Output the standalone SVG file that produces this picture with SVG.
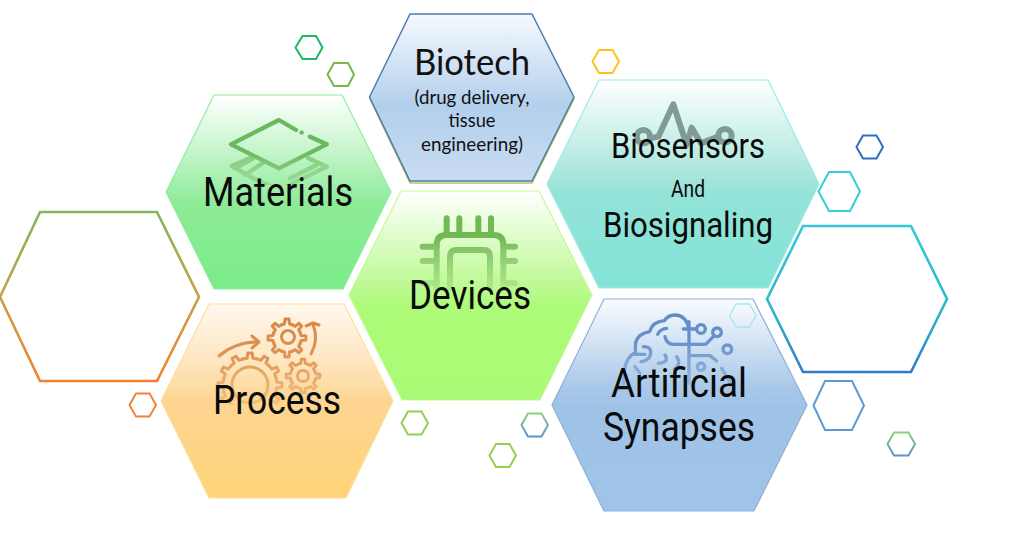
<svg xmlns="http://www.w3.org/2000/svg" xmlns:xlink="http://www.w3.org/1999/xlink" width="1033" height="534" viewBox="0 0 1033 534">
<style>
.lab{font-family:"Roboto","Liberation Sans",sans-serif;fill:#0a0a0a}
.cal{font-family:"Lato","Liberation Sans",sans-serif;fill:#111}
.ic{fill:none;stroke-linecap:round;stroke-linejoin:round}
.sh{fill:none;stroke-width:2}
.big{fill:none;stroke-width:2.6}
</style>
<defs>
<linearGradient id="gMat" x1="0" y1="0" x2="0" y2="1"><stop offset="0" stop-color="#fff"/><stop offset=".5" stop-color="#9aeda4"/><stop offset=".55" stop-color="#8eeb98"/><stop offset="1" stop-color="#7beb88"/></linearGradient>
<linearGradient id="gBio" x1="0" y1="0" x2="0" y2="1"><stop offset="0" stop-color="#f6f9fe"/><stop offset=".55" stop-color="#b2cfec"/><stop offset="1" stop-color="#c9dcf1"/></linearGradient>
<linearGradient id="gDev" x1="0" y1="0" x2="0" y2="1"><stop offset="0" stop-color="#fff"/><stop offset=".48" stop-color="#b9f98d"/><stop offset=".55" stop-color="#adfb78"/><stop offset="1" stop-color="#a9fb75"/></linearGradient>
<linearGradient id="gSen" x1="0" y1="0" x2="0" y2="1"><stop offset="0" stop-color="#fff"/><stop offset=".48" stop-color="#a4e5d9"/><stop offset=".55" stop-color="#93e3d8"/><stop offset="1" stop-color="#82e3d7"/></linearGradient>
<linearGradient id="gArt" x1="0" y1="0" x2="0" y2="1"><stop offset="0" stop-color="#fafcfe"/><stop offset=".42" stop-color="#a8c8e8"/><stop offset=".5" stop-color="#9fc3e7"/><stop offset="1" stop-color="#a0c4e8"/></linearGradient>
<linearGradient id="gPro" x1="0" y1="0" x2="0" y2="1"><stop offset="0" stop-color="#fff8ef"/><stop offset=".3" stop-color="#fee6bf"/><stop offset=".5" stop-color="#fdd592"/><stop offset="1" stop-color="#ffd478"/></linearGradient>
<linearGradient id="sL" x1="0" y1="0" x2="0" y2="1"><stop offset="0" stop-color="#7fb85a"/><stop offset=".5" stop-color="#c6a145"/><stop offset="1" stop-color="#f4802f"/></linearGradient>
<linearGradient id="sR" x1="0" y1="0" x2="0" y2="1"><stop offset="0" stop-color="#36c8d8"/><stop offset=".6" stop-color="#2fb4cc"/><stop offset="1" stop-color="#2f7cc8"/></linearGradient>
<linearGradient id="sGB" x1="0" y1="0" x2="0" y2="1"><stop offset="0" stop-color="#8ed07a"/><stop offset="1" stop-color="#5b94d0"/></linearGradient>
<linearGradient id="fadeA" x1="0" y1="0" x2="0" y2="1"><stop offset="0" stop-color="#fff"/><stop offset=".6" stop-color="#fff"/><stop offset="1" stop-color="#777"/></linearGradient>
<mask id="mMat" maskUnits="userSpaceOnUse" x="0" y="0" width="1033" height="534"><rect x="200" y="100" width="150" height="85" fill="url(#fadeA)"/></mask>
<mask id="mDev" maskUnits="userSpaceOnUse" x="0" y="0" width="1033" height="534"><rect x="410" y="205" width="120" height="90" fill="url(#fadeB)"/></mask>
<linearGradient id="fadeB" x1="0" y1="0" x2="0" y2="1"><stop offset="0" stop-color="#fff"/><stop offset=".35" stop-color="#fff"/><stop offset="1" stop-color="#222"/></linearGradient>
<mask id="mPro" maskUnits="userSpaceOnUse" x="0" y="0" width="1033" height="534"><rect x="200" y="310" width="140" height="95" fill="url(#fadeC)"/></mask>
<linearGradient id="fadeC" x1="0" y1="0" x2="0" y2="1"><stop offset="0" stop-color="#fff"/><stop offset=".45" stop-color="#ddd"/><stop offset="1" stop-color="#444"/></linearGradient>
<mask id="mArt" maskUnits="userSpaceOnUse" x="0" y="0" width="1033" height="534"><rect x="610" y="305" width="140" height="90" fill="url(#fadeD)"/></mask>
<linearGradient id="fadeD" x1="0" y1="0" x2="0" y2="1"><stop offset="0" stop-color="#fff"/><stop offset=".4" stop-color="#eee"/><stop offset="1" stop-color="#333"/></linearGradient>
<path id="t8" d="M13.86-5.74 14.77-2.6 19.89-2.09V2.09L14.77 2.6 13.86 5.74"/>
<path id="t12" d="M26.08-6.99 26.85-2.82 31.92-2.23V2.23L26.85 2.82 26.08 6.99"/>
<g id="gear8">
<use href="#t8"/><use href="#t8" transform="rotate(45)"/><use href="#t8" transform="rotate(90)"/><use href="#t8" transform="rotate(135)"/><use href="#t8" transform="rotate(180)"/><use href="#t8" transform="rotate(225)"/><use href="#t8" transform="rotate(270)"/><use href="#t8" transform="rotate(315)"/>
</g>
<g id="gear12">
<use href="#t12"/><use href="#t12" transform="rotate(30)"/><use href="#t12" transform="rotate(60)"/><use href="#t12" transform="rotate(90)"/><use href="#t12" transform="rotate(120)"/><use href="#t12" transform="rotate(150)"/><use href="#t12" transform="rotate(180)"/><use href="#t12" transform="rotate(210)"/><use href="#t12" transform="rotate(240)"/><use href="#t12" transform="rotate(270)"/><use href="#t12" transform="rotate(300)"/><use href="#t12" transform="rotate(330)"/>
</g>
</defs>
<rect width="1033" height="534" fill="#fff"/>

<g id="outline-left"><polygon class="big" stroke="url(#sL)" points="0,297 40,212 157,212 199,297 157,381 40,381"/></g>
<g id="outline-right"><polygon class="big" stroke="url(#sR)" points="767,299 803,226 911,226 947,299 911,372 803,372"/></g>

<g id="node-biotech">
<polygon fill="none" stroke="#b5c86a" stroke-width="1.5" points="370,99 410,183 532,183 574,99"/>
<polygon fill="url(#gBio)" stroke="#4f7dab" stroke-width="1.5" points="369.5,97 410,14 532,14 574,97 532,181 410,181"/>
<text class="cal" x="472" y="75" font-size="37" text-anchor="middle" textLength="116" lengthAdjust="spacingAndGlyphs">Biotech</text>
<text class="cal" x="472" y="104" font-size="18.5" text-anchor="middle" textLength="115" lengthAdjust="spacingAndGlyphs">(drug delivery,</text>
<text class="cal" x="472" y="127" font-size="18.5" text-anchor="middle" textLength="47" lengthAdjust="spacingAndGlyphs">tissue</text>
<text class="cal" x="472" y="151" font-size="18.5" text-anchor="middle" textLength="102" lengthAdjust="spacingAndGlyphs">engineering)</text>
</g>

<g id="node-materials">
<polygon fill="url(#gMat)" stroke="#8fee9c" stroke-width="1.2" points="166,192 214,95 342,95 391,192 343,289 214,289"/>
<g mask="url(#mMat)"><g class="ic" transform="translate(220 110) scale(.3333)" stroke="#6cb85f" stroke-width="13">
<path d="M100 140 35 168 100 205 177 240 320 170 265 145M100 145 45 175M130 158 75 195M290 165 210 205" opacity=".7"/>
<path d="M228 60 177 30 33 103 177 175 320 103 270 80"/><path d="M245 68h.1"/>
</g></g>
<text class="lab" x="203" y="206" font-size="41" textLength="150" lengthAdjust="spacingAndGlyphs">Materials</text>
</g>

<g id="node-devices">
<polygon fill="url(#gDev)" stroke="#c6f79b" stroke-width="1.2" points="349,295 401,191 539,191 592,295 540,400 402,400"/>
<g mask="url(#mDev)"><g class="ic" transform="translate(410 205) scale(.3333)" stroke="#72b855" stroke-width="18">
<path d="M80 250V120Q80 90 110 90H250Q280 90 280 120V250"/>
<path d="M120 250V155Q120 135 140 135H222Q240 135 240 155V250"/>
<path d="M110 40V90M148 40V90M205 40V90M243 40V90M38 125H80M38 168H80M38 235H80M280 125H315M280 168H315M280 235H315"/>
</g></g>
<text class="lab" x="409" y="309" font-size="40" textLength="122" lengthAdjust="spacingAndGlyphs">Devices</text>
</g>

<g id="node-process">
<polygon fill="url(#gPro)" stroke="#fde09a" stroke-width="1.2" points="161,401 209,304 344,304 393,401 346,498 209,498"/>
<g mask="url(#mPro)"><g class="ic" stroke="#d8853f" stroke-width="3">
<use href="#gear8" transform="translate(287 338) scale(.95)" stroke-width="3.2"/>
<circle cx="288" cy="337" r="6.5"/>
<path d="M219 356Q235 342 258 342M252 336 259 342 252 348"/>
<path d="M311 354Q319 340 313 324M306 326 313 323 319 325"/>
<use href="#gear12" transform="translate(250 385)"/>
<circle cx="250" cy="385" r="18"/>
<use href="#gear8" transform="translate(303 376) scale(.85)" stroke-width="3.4"/>
<circle cx="303" cy="376" r="5.5"/>
</g></g>
<text class="lab" x="213" y="414" font-size="41" textLength="128" lengthAdjust="spacingAndGlyphs">Process</text>
</g>

<g id="node-biosensors">
<polygon fill="url(#gSen)" stroke="#9be9e2" stroke-width="1.2" points="547,184 599,80 768,80 819,184 768,288 599,288"/>
<g class="ic" transform="translate(625 95) scale(.3333)" stroke="#7f9a97" stroke-width="18">
<circle cx="55" cy="125" r="20"/><circle cx="300" cy="122" r="20"/>
<path d="M75 130 100 125 145 28 185 150 200 98 228 145 280 125"/>
</g>
<text class="lab" x="611" y="158" font-size="35" textLength="154" lengthAdjust="spacingAndGlyphs">Biosensors</text>
<text class="lab" x="671" y="197" font-size="23" textLength="34" lengthAdjust="spacingAndGlyphs">And</text>
<text class="lab" x="603" y="237" font-size="35" textLength="170" lengthAdjust="spacingAndGlyphs">Biosignaling</text>
</g>

<g id="node-synapses">
<polygon fill="url(#gArt)" stroke="#8faede" stroke-width="1.2" points="552,405 604,299 753,299 807,405 754,511 604,511"/>
<g mask="url(#mArt)"><g class="ic" transform="translate(615 305) scale(.3333)" stroke="#5d8ac8" stroke-width="10">
<path d="M222 70Q212 30 180 30 160 30 148 47 112 50 104 80 70 85 62 112 60 130 62 142 35 155 28 195M28 195 25 240"/>
<path d="M128 88Q135 72 155 70M150 95Q155 118 175 118H222M222 118H272L298 92"/>
<path d="M222 50V235M205 72H245M222 152H285L305 168"/>
<circle cx="258" cy="72" r="13"/><circle cx="306" cy="82" r="13"/><circle cx="337" cy="133" r="13"/><circle cx="258" cy="185" r="11"/>
<path d="M85 125Q112 125 106 150 100 168 78 170M60 148H90"/>
<path d="M150 150Q165 172 130 175M185 155Q200 178 178 192M60 185 75 205M320 190 350 240"/>
</g></g>
<text class="lab" x="611" y="397" font-size="40" textLength="136" lengthAdjust="spacingAndGlyphs">Artificial</text>
<text class="lab" x="603" y="441" font-size="40" textLength="152" lengthAdjust="spacingAndGlyphs">Synapses</text>
</g>

<g id="small-hexagons">
<polygon class="sh" stroke="#1fb868" points="295.5,47.5 302.5,36 316,36 322.5,47.5 316,59 302.5,59"/>
<polygon class="sh" stroke="#7ab648" points="327.5,74.5 334,63 348,63 354,74.5 348,86 334,86"/>
<polygon class="sh" stroke="#fdc21e" points="592.5,61.5 599,50 612.5,50 619,61.5 612.5,73 599,73"/>
<polygon class="sh" stroke="#2f6fc0" points="856.5,147 863,135.5 876.5,135.5 883,147 876.5,158.5 863,158.5"/>
<polygon class="sh" stroke="#36ccd8" points="818.5,191.5 829,172 850,172 860,191.5 850,211 829,211"/>
<polygon class="sh" stroke="#a8e6ea" style="stroke-width:1.3" points="729.5,315.5 736,304 749.5,304 756,315.5 749.5,327 736,327"/>
<polygon class="sh" stroke="#5b9bd5" points="813.5,405.5 825,381 852,381 864,405.5 852,430 825,430"/>
<polygon class="sh" stroke="url(#sGB)" points="887.5,444 894,432.5 908.5,432.5 915,444 908.5,455.5 894,455.5"/>
<polygon class="sh" stroke="#f4803c" points="129.5,405 136,393.5 149.5,393.5 156,405 149.5,416.5 136,416.5"/>
<polygon class="sh" stroke="#92d050" points="401.5,423 408,411.5 421.5,411.5 428,423 421.5,434.5 408,434.5"/>
<polygon class="sh" stroke="url(#sGB)" points="521.5,425 528,413.5 541.5,413.5 548,425 541.5,436.5 528,436.5"/>
<polygon class="sh" stroke="#92d050" points="489.5,455.5 496,444 509.5,444 516,455.5 509.5,467 496,467"/>
</g>
</svg>
